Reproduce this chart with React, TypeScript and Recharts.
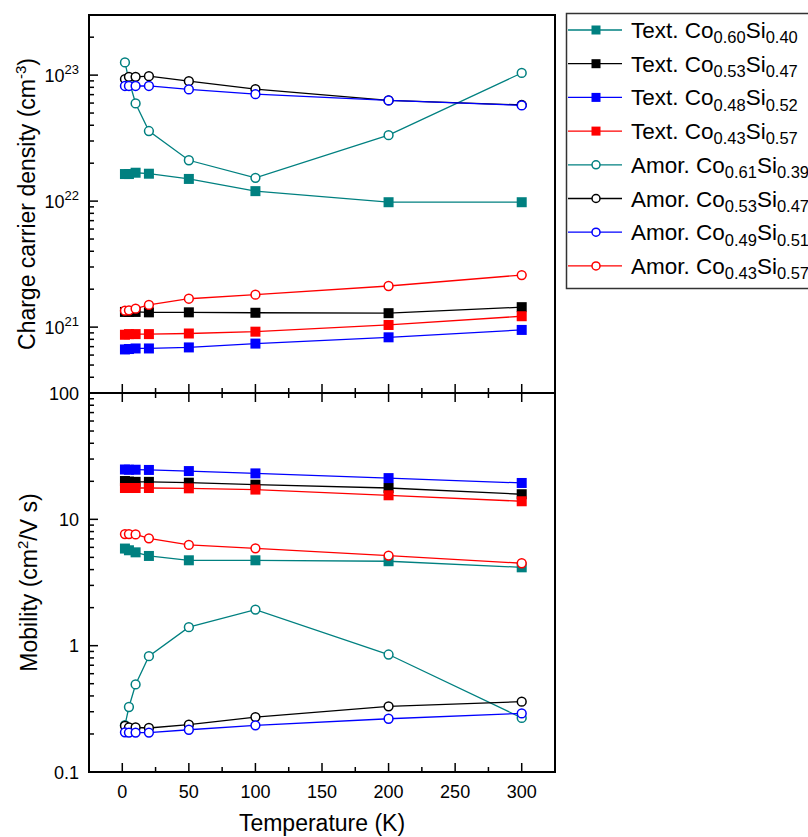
import React from 'react';
import { LineChart, Line, XAxis, YAxis, ReferenceArea, Label } from 'recharts';

const temps = [2, 5, 10, 20, 50, 100, 200, 300];

// charge carrier density, cm^-3
const nTextCo60 = [1.64e22, 1.64e22, 1.68e22, 1.65e22, 1.5e22, 1.2e22, 9.8e21, 9.8e21];
const nTextCo53 = [1.32e21, 1.32e21, 1.32e21, 1.31e21, 1.31e21, 1.3e21, 1.29e21, 1.44e21];
const nTextCo48 = [6.65e20, 6.7e20, 6.77e20, 6.77e20, 6.9e20, 7.4e20, 8.3e20, 9.5e20];
const nTextCo43 = [8.7e20, 8.8e20, 8.8e20, 8.8e20, 8.9e20, 9.2e20, 1.04e21, 1.22e21];
const nAmorCo61 = [1.26e23, 9.1e22, 5.96e22, 3.6e22, 2.11e22, 1.53e22, 3.34e22, 1.04e23];
const nAmorCo53 = [9.3e22, 9.7e22, 9.7e22, 9.8e22, 8.96e22, 7.74e22, 6.3e22, 5.8e22];
const nAmorCo49 = [8.2e22, 8.2e22, 8.2e22, 8.2e22, 7.7e22, 7.06e22, 6.3e22, 5.75e22];
const nAmorCo43 = [1.35e21, 1.36e21, 1.4e21, 1.5e21, 1.68e21, 1.81e21, 2.12e21, 2.59e21];

// mobility, cm^2/V s
const muTextCo60 = [5.87, 5.69, 5.48, 5.13, 4.74, 4.74, 4.66, 4.17];
const muTextCo53 = [20.1, 19.9, 19.8, 19.8, 19.5, 18.8, 17.7, 15.8];
const muTextCo48 = [24.8, 24.7, 24.7, 24.6, 24.1, 23.1, 21.2, 19.4];
const muTextCo43 = [17.7, 17.7, 17.7, 17.7, 17.6, 17.2, 15.5, 13.9];
const muAmorCo61 = [0.235, 0.327, 0.493, 0.826, 1.4, 1.93, 0.851, 0.268];
const muAmorCo53 = [0.232, 0.225, 0.225, 0.223, 0.237, 0.272, 0.331, 0.36];
const muAmorCo49 = [0.206, 0.205, 0.205, 0.205, 0.216, 0.234, 0.264, 0.291];
const muAmorCo43 = [7.65, 7.65, 7.6, 7.08, 6.27, 5.9, 5.17, 4.49];

const xTicks = [0, 25, 50, 75, 100, 125, 150, 175, 200, 225, 250, 275, 300];
const xLabels = [0, 50, 100, 150, 200, 250, 300];

const nMajor = [1e21, 1e22, 1e23];
const nExp = ['21', '22', '23'];
const nMinor = [4e20, 5e20, 6e20, 7e20, 8e20, 9e20,
  2e21, 3e21, 4e21, 5e21, 6e21, 7e21, 8e21, 9e21,
  2e22, 3e22, 4e22, 5e22, 6e22, 7e22, 8e22, 9e22, 2e23];
const muMajor = [0.1, 1, 10, 100];
const muLabels = ['0.1', '1', '10', '100'];
const muMinor = [0.2, 0.3, 0.4, 0.5, 0.6, 0.7, 0.8, 0.9,
  2, 3, 4, 5, 6, 7, 8, 9, 20, 30, 40, 50, 60, 70, 80, 90];

const TEAL = '#008080';

const series = [
  { key: 'tCo60', pre: 'Text.', co: '0.60', si: '0.40', color: TEAL, filled: true, n: nTextCo60, mu: muTextCo60 },
  { key: 'tCo53', pre: 'Text.', co: '0.53', si: '0.47', color: '#000000', filled: true, n: nTextCo53, mu: muTextCo53 },
  { key: 'tCo48', pre: 'Text.', co: '0.48', si: '0.52', color: '#0000ff', filled: true, n: nTextCo48, mu: muTextCo48 },
  { key: 'tCo43', pre: 'Text.', co: '0.43', si: '0.57', color: '#ff0000', filled: true, n: nTextCo43, mu: muTextCo43 },
  { key: 'aCo61', pre: 'Amor.', co: '0.61', si: '0.39', color: TEAL, filled: false, n: nAmorCo61, mu: muAmorCo61 },
  { key: 'aCo53', pre: 'Amor.', co: '0.53', si: '0.47', color: '#000000', filled: false, n: nAmorCo53, mu: muAmorCo53 },
  { key: 'aCo49', pre: 'Amor.', co: '0.49', si: '0.51', color: '#0000ff', filled: false, n: nAmorCo49, mu: muAmorCo49 },
  { key: 'aCo43', pre: 'Amor.', co: '0.43', si: '0.57', color: '#ff0000', filled: false, n: nAmorCo43, mu: muAmorCo43 },
];

const densityRows = temps.map((T, i) => {
  const row: any = { T };
  series.forEach(s => { row[s.key] = s.n[i]; });
  return row;
});
const mobilityRows = temps.map((T, i) => {
  const row: any = { T };
  series.forEach(s => { row[s.key] = s.mu[i]; });
  return row;
});

const makeDot = (color: string, filled: boolean, size = 10, r = 4.4) => (p: any) => {
  if (p.cx == null || p.cy == null) return <g key={p.index} />;
  if (filled) {
    return <rect key={p.index} x={p.cx - size / 2} y={p.cy - size / 2} width={size} height={size} fill={color} />;
  }
  return <circle key={p.index} cx={p.cx} cy={p.cy} r={r} fill="#fff" stroke={color} strokeWidth={1.5} />;
};

const makeYTick = (majors: number[], labels: (v: number, i: number) => React.ReactNode) => (p: any) => {
  const { x, y, payload } = p;
  const mi = majors.indexOf(payload.value);
  const major = mi >= 0;
  return (
    <g>
      <line x1={x} x2={x + (major ? 9 : 5)} y1={y} y2={y} stroke="#000" strokeWidth={1.5} />
      {major && (
        <text x={x - 10} y={y} dy={6.5} textAnchor="end" fontSize={18} fill="#000">
          {labels(payload.value, mi)}
        </text>
      )}
    </g>
  );
};

const nTick = makeYTick(nMajor, (v, i) => (
  <>
    <tspan>10</tspan>
    <tspan dy={-8} fontSize={13}>{nExp[i]}</tspan>
  </>
));
const muTick = makeYTick(muMajor, (v, i) => muLabels[i]);

const midXTick = (p: any) => {
  const { x, y, payload } = p;
  const major = payload.value % 50 === 0;
  const h = major ? 9 : 5;
  return <line x1={x} x2={x} y1={y - h} y2={y + h} stroke="#000" strokeWidth={1.5} />;
};

const bottomXTick = (p: any) => {
  const { x, y, payload } = p;
  const major = xLabels.includes(payload.value);
  return (
    <g>
      <line x1={x} x2={x} y1={y - (major ? 9 : 5)} y2={y} stroke="#000" strokeWidth={1.5} />
      {major && (
        <text x={x} y={y + 26} textAnchor="middle" fontSize={18} fill="#000">{payload.value}</text>
      )}
    </g>
  );
};

const renderLines = () =>
  series.map(s => (
    <Line
      key={s.key}
      type="linear"
      dataKey={s.key}
      stroke={s.color}
      strokeWidth={1.3}
      dot={makeDot(s.color, s.filled)}
      activeDot={false}
      isAnimationActive={false}
    />
  ));

const App = () => {
  return (
    <div
      style={{
        position: 'absolute',
        left: 0,
        top: 0,
        width: 808,
        height: 837,
        overflow: 'hidden',
        background: '#fff',
        fontFamily: '"Liberation Sans", Arial, sans-serif',
      }}
    >
      <div style={{ position: 'absolute', left: 0, top: 0 }}>
        <LineChart width={560} height={410} data={densityRows} margin={{ top: 15, right: 5, bottom: 0, left: 0 }}>
          <XAxis
            dataKey="T"
            type="number"
            domain={[-25, 325]}
            allowDataOverflow
            ticks={xTicks}
            interval={0}
            height={17}
            tickSize={0}
            tickMargin={0}
            axisLine={false}
            tickLine={false}
            tick={midXTick}
          />
          <YAxis
            type="number"
            scale="log"
            domain={[3e20, 3e23]}
            allowDataOverflow
            ticks={[...nMajor, ...nMinor]}
            interval={0}
            width={89}
            tickSize={0}
            tickMargin={0}
            axisLine={false}
            tickLine={false}
            tick={nTick}
          >
            <Label
              content={() => (
                <text transform="translate(35,204) rotate(-90)" textAnchor="middle" fontSize={23} fill="#000">
                  <tspan>Charge carrier density (cm</tspan>
                  <tspan dy={-9} fontSize={15}>-3</tspan>
                  <tspan dy={9}>)</tspan>
                </text>
              )}
            />
          </YAxis>
          <ReferenceArea x1={-25} x2={325} y1={3e20} y2={3e23} fill="none" stroke="#000" strokeWidth={2} ifOverflow="visible" />
          {renderLines()}
        </LineChart>
      </div>

      <div style={{ position: 'absolute', left: 0, top: 360 }}>
        <LineChart width={560} height={477} data={mobilityRows} margin={{ top: 33, right: 5, bottom: 0, left: 0 }}>
          <XAxis
            dataKey="T"
            type="number"
            domain={[-25, 325]}
            allowDataOverflow
            ticks={xTicks}
            interval={0}
            height={65}
            tickSize={0}
            tickMargin={0}
            axisLine={false}
            tickLine={false}
            tick={bottomXTick}
          >
            <Label
              content={() => (
                <text x={322} y={471} textAnchor="middle" fontSize={23} fill="#000">Temperature (K)</text>
              )}
            />
          </XAxis>
          <YAxis
            type="number"
            scale="log"
            domain={[0.1, 100]}
            allowDataOverflow
            ticks={[...muMajor, ...muMinor]}
            interval={0}
            width={89}
            tickSize={0}
            tickMargin={0}
            axisLine={false}
            tickLine={false}
            tick={muTick}
          >
            <Label
              content={() => (
                <text transform="translate(37,222.5) rotate(-90)" textAnchor="middle" fontSize={23} fill="#000">
                  <tspan>Mobility (cm</tspan>
                  <tspan dy={-9} fontSize={15}>2</tspan>
                  <tspan dy={9}>/V s)</tspan>
                </text>
              )}
            />
          </YAxis>
          <ReferenceArea x1={-25} x2={325} y1={0.1} y2={100} fill="none" stroke="#000" strokeWidth={2} ifOverflow="visible" />
          {renderLines()}
        </LineChart>
      </div>

      <svg width={808} height={300} style={{ position: 'absolute', left: 0, top: 0 }}>
        <rect x={566.5} y={13.5} width={260} height={275} fill="#fff" stroke="#333" strokeWidth={1.5} />
        {series.map((s, i) => {
          const cy = 30 + i * 33.7;
          return (
            <g key={s.key}>
              <line x1={568} x2={622} y1={cy} y2={cy} stroke={s.color} strokeWidth={1.3} />
              {s.filled ? (
                <rect x={591.5} y={cy - 4.5} width={9} height={9} fill={s.color} />
              ) : (
                <circle cx={596} cy={cy} r={4} fill="#fff" stroke={s.color} strokeWidth={1.5} />
              )}
              <text x={631} y={cy + 8} fontSize={22.5} fill="#000">
                <tspan>{s.pre} Co</tspan>
                <tspan dy={5.3} fontSize={16.5}>{s.co}</tspan>
                <tspan dy={-5.3}>Si</tspan>
                <tspan dy={5.3} fontSize={16.5}>{s.si}</tspan>
              </text>
            </g>
          );
        })}
      </svg>
    </div>
  );
};

export default App;
